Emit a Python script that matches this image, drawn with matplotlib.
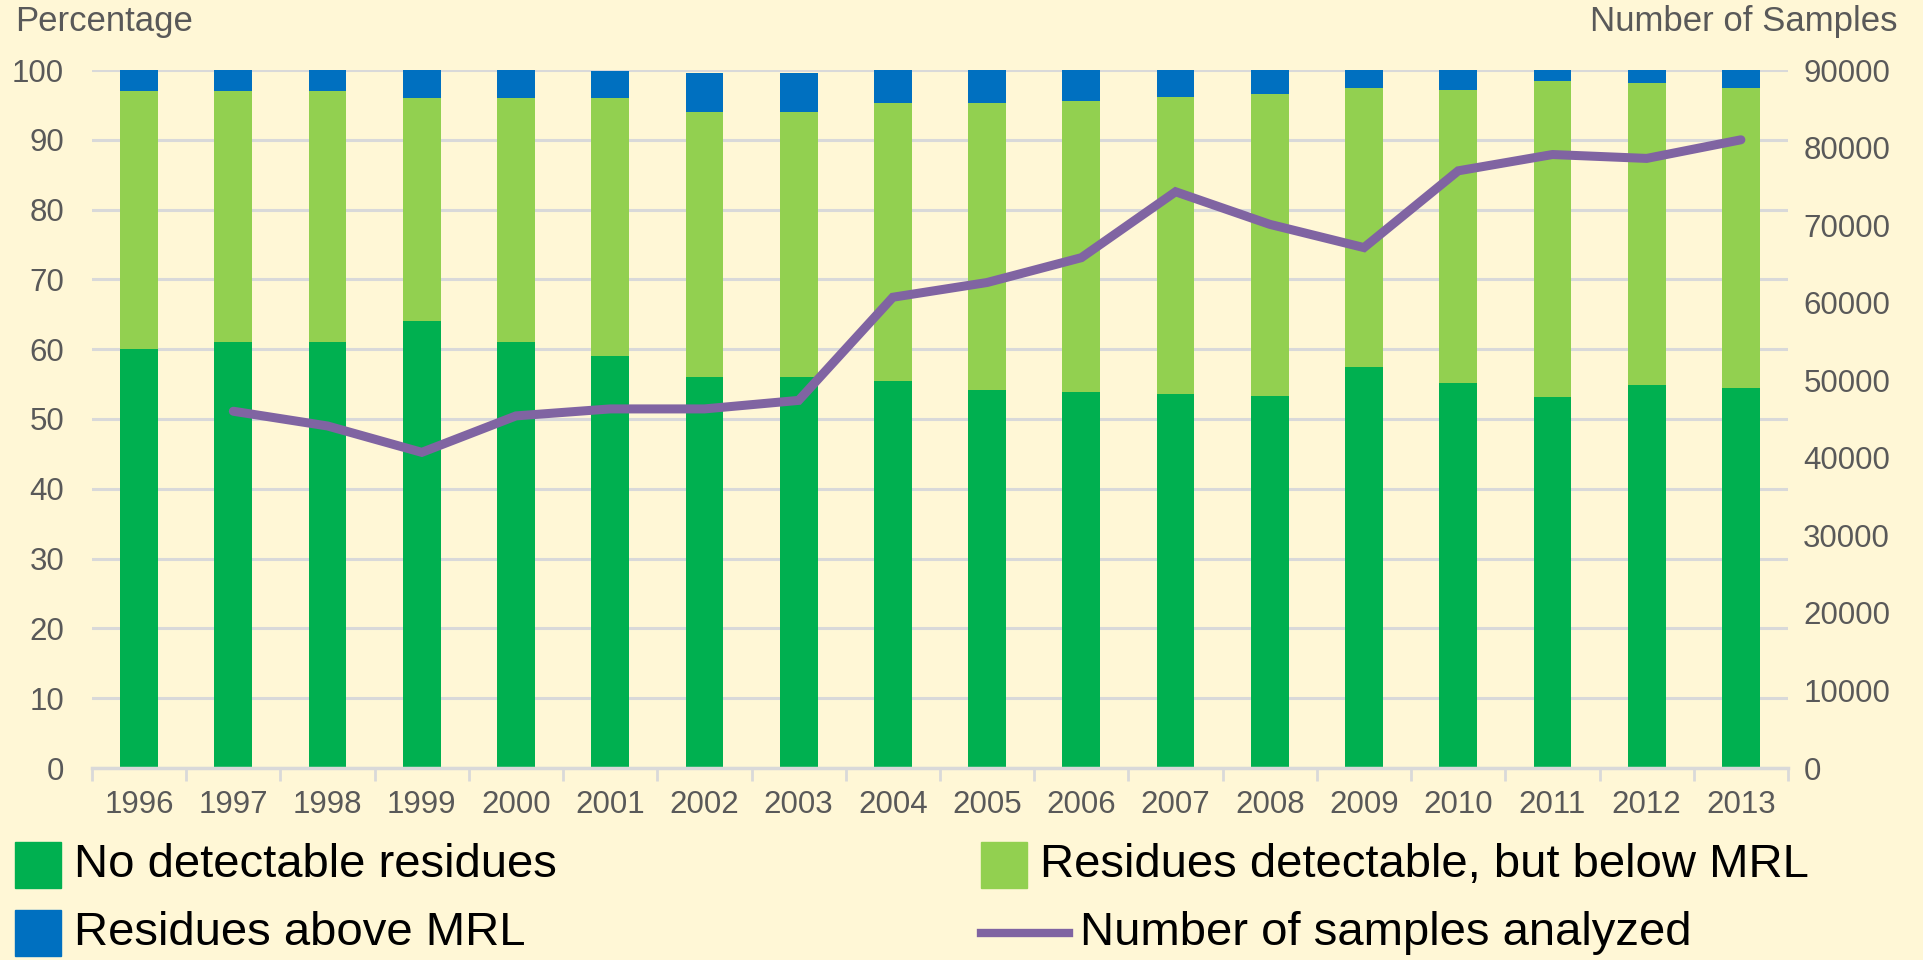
import numpy as np
import matplotlib
matplotlib.use("Agg")
import matplotlib.pyplot as plt
from matplotlib.patches import Rectangle
from matplotlib.lines import Line2D

plt.rcParams['font.family'] = ['Liberation Sans', 'DejaVu Sans']

# --- DATA ---
years = [str(y) for y in range(1996, 2014)]
no_detect = [60, 61, 61, 64, 61, 59, 56, 56, 55.5, 54.2, 53.8, 53.6, 53.3, 57.5, 55.2, 53.1, 54.8, 54.5]
below_mrl = [37, 36, 36, 32, 35, 37, 38, 38, 39.8, 41.1, 41.8, 42.5, 43.2, 39.9, 42.0, 45.3, 43.4, 42.9]
above_mrl = [3, 3, 3, 4, 4, 3.8, 5.5, 5.5, 4.7, 4.7, 4.4, 3.9, 3.5, 2.6, 2.8, 1.6, 1.8, 2.6]
n_samples = [np.nan, 46000, 44100, 40700, 45400, 46300, 46300, 47400, 60700,
             62600, 65800, 74300, 70100, 67100, 77000, 79100, 78600, 81000]

c_dark = '#00B050'
c_light = '#92D050'
c_blue = '#0070C0'
c_line = '#8064A2'
c_grid = '#D9D9D9'
c_tick = '#595959'
bg = '#FFF7D6'

W, H = 1923, 960
fig = plt.figure(figsize=(W / 100, H / 100), dpi=100)
fig.patch.set_facecolor(bg)

ax = fig.add_axes([92 / W, 1 - 768 / H, 1696 / W, 698 / H])
ax.set_facecolor('none')
x = np.arange(len(years))
nd = np.array(no_detect)
bm = np.array(below_mrl)
am = np.array(above_mrl)
ax.bar(x, nd, width=0.4, color=c_dark, zorder=2)
ax.bar(x, bm, width=0.4, bottom=nd, color=c_light, zorder=2)
ax.bar(x, am, width=0.4, bottom=nd + bm, color=c_blue, zorder=2)

ax.set_xlim(-0.5, len(years) - 0.5)
ax.set_ylim(0, 100)
ax.set_yticks(range(0, 101, 10))
ax.yaxis.grid(True, color=c_grid, linewidth=2.2)
ax.set_axisbelow(True)
for s in ['top', 'right', 'left']:
    ax.spines[s].set_visible(False)
ax.spines['bottom'].set_color(c_grid)
ax.spines['bottom'].set_linewidth(2.5)
ax.spines['bottom'].set_zorder(3)
ax.tick_params(axis='y', length=0, pad=20, labelsize=22.5, labelcolor=c_tick)
ax.set_xticks(x)
ax.set_xticklabels(years)
ax.set_xticks(np.arange(-0.5, len(years), 1), minor=True)
ax.tick_params(axis='x', which='major', length=0, pad=16, labelsize=22.5, labelcolor=c_tick)
ax.tick_params(axis='x', which='minor', length=9, width=2, color=c_grid)

ax2 = ax.twinx()
ax2.plot(x, n_samples, color=c_line, linewidth=6.5, solid_capstyle='round',
         solid_joinstyle='miter', zorder=4)
ax2.set_ylim(0, 90000)
ax2.set_yticks(range(0, 90001, 10000))
for s in ['top', 'right', 'left', 'bottom']:
    ax2.spines[s].set_visible(False)
ax2.tick_params(axis='y', length=0, pad=11, labelsize=22.5, labelcolor=c_tick)

fig.text(15 / W, 1 - 22 / H, 'Percentage', fontsize=25, color=c_tick, ha='left', va='center')
fig.text(1898 / W, 1 - 22 / H, 'Number of Samples', fontsize=25, color=c_tick, ha='right', va='center')

# legend drawn by hand
def px(xp, yp):
    return xp / W, 1 - yp / H

def square(x0, yc, color):
    fig.add_artist(Rectangle(px(x0, yc + 23), 46 / W, 46 / H, color=color,
                             transform=fig.transFigure))

square(15, 865, c_dark)
fig.text(*px(74, 865), 'No detectable residues', fontsize=34, ha='left', va='center')
square(15, 933, c_blue)
fig.text(*px(74, 933), 'Residues above MRL', fontsize=34, ha='left', va='center')
square(981, 865, c_light)
fig.text(*px(1040, 865), 'Residues detectable, but below MRL', fontsize=34, ha='left', va='center')
fig.add_artist(Line2D([981 / W, 1069 / W], [1 - 933 / H, 1 - 933 / H], color=c_line,
                      linewidth=6, transform=fig.transFigure))
fig.text(*px(1080, 933), 'Number of samples analyzed', fontsize=34, ha='left', va='center')

fig.savefig('out.png', dpi=100, facecolor=fig.get_facecolor())
